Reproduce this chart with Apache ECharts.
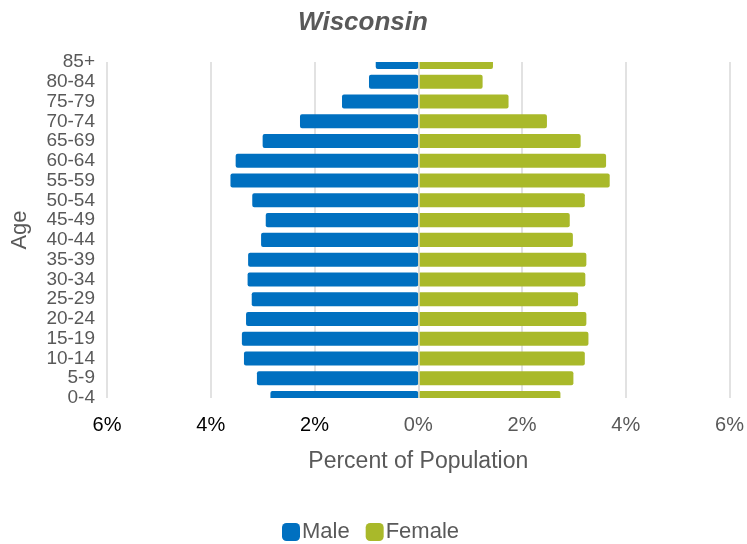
<!DOCTYPE html>
<html>
<head>
<meta charset="utf-8">
<title>Wisconsin</title>
<script src="https://cdn.jsdelivr.net/npm/echarts@6/dist/echarts.min.js"></script>
<style>
  html, body { margin: 0; padding: 0; background: #fff; }
  #chart { width: 747px; height: 544px; }
</style>
</head>
<body>
<div id="chart"></div>
<script>
// age groups, bottom to top
const ages = ["0-4", "5-9", "10-14", "15-19", "20-24", "25-29", "30-34", "35-39", "40-44",
  "45-49", "50-54", "55-59", "60-64", "65-69", "70-74", "75-79", "80-84", "85+"];

// percent of population
const male = [2.85, 3.11, 3.36, 3.40, 3.32, 3.21, 3.29, 3.28, 3.03,
  2.94, 3.20, 3.62, 3.52, 3.00, 2.28, 1.47, 0.95, 0.82];
const female = [2.74, 2.99, 3.21, 3.28, 3.24, 3.08, 3.22, 3.24, 2.98,
  2.92, 3.21, 3.69, 3.62, 3.13, 2.48, 1.74, 1.24, 1.44];

const xTicks = [-6, -4, -2, 0, 2, 4, 6];

const font = "'Liberation Sans', Arial, sans-serif";
const grey = "#595959";

var chart = echarts.init(document.getElementById("chart"));

// plot area, the end bars get cut at its top and bottom edge
const gridTop = 62, gridBottom = 146, gridLeft = 107, gridRight = 17;

var option = {
  animation: false,
  title: {
    text: "Wisconsin",
    left: 358,
    textAlign: "center",
    top: 5,
    textStyle: {
      fontFamily: font,
      fontSize: 26,
      fontWeight: "bold",
      fontStyle: "italic",
      color: grey,
    },
  },
  legend: {
    data: ["Male", "Female"],
    left: 277,
    top: 516,
    icon: "roundRect",
    itemWidth: 18,
    itemHeight: 18,
    itemGap: 16,
    textStyle: { fontFamily: font, fontSize: 22, color: grey, padding: [0, 0, 0, -3] },
  },
  grid: { left: gridLeft, right: gridRight, top: gridTop, bottom: gridBottom },
  xAxis: {
    type: "value",
    min: xTicks[0],
    max: xTicks[xTicks.length - 1],
    interval: 2,
    name: "Percent of Population",
    nameLocation: "middle",
    nameGap: 52,
    nameTextStyle: { fontFamily: font, fontSize: 23, color: grey },
    axisLine: { show: false },
    axisTick: { show: false },
    axisLabel: {
      fontFamily: font,
      fontSize: 20,
      margin: 17,
      color: function (v) {
        return Number(v) < 0 ? "#000000" : grey;
      },
      formatter: function (v) {
        return Math.abs(v) + "%";
      },
    },
    splitLine: { lineStyle: { color: "#d9d9d9", width: 1.5 } },
  },
  yAxis: {
    type: "category",
    data: ages,
    boundaryGap: false,
    name: "Age",
    nameLocation: "middle",
    nameGap: 76,
    nameTextStyle: { fontFamily: font, fontSize: 22, color: grey },
    axisLine: { show: false },
    axisTick: { show: false },
    splitLine: { show: false },
    axisLabel: { fontFamily: font, fontSize: 19, color: grey, margin: 12, interval: 0 },
  },
  // white masks so the first and last rows are cut at the plot edge
  graphic: [
    {
      type: "rect",
      z: 100,
      silent: true,
      shape: { x: gridLeft - 2, y: gridTop - 14, width: 747 - gridLeft - gridRight + 4, height: 14 },
      style: { fill: "#ffffff" },
    },
    {
      type: "rect",
      z: 100,
      silent: true,
      shape: { x: gridLeft - 2, y: 544 - gridBottom, width: 747 - gridLeft - gridRight + 4, height: 14 },
      style: { fill: "#ffffff" },
    },
  ],
  series: [
    {
      name: "Male",
      type: "bar",
      data: male.map((v) => -v),
      barCategoryGap: "29%",
      barGap: "-100%",
      itemStyle: { color: "#0070C0", borderRadius: 2 },
    },
    {
      name: "Female",
      type: "bar",
      data: female,
      barCategoryGap: "29%",
      barGap: "-100%",
      itemStyle: { color: "#A9B92A", borderRadius: 2 },
      markLine: {
        silent: true,
        symbol: "none",
        label: { show: false },
        lineStyle: { color: "#d9d9d9", width: 1.5, type: "solid" },
        data: [{ xAxis: 0 }],
      },
    },
  ],
};

chart.setOption(option);
</script>
</body>
</html>
